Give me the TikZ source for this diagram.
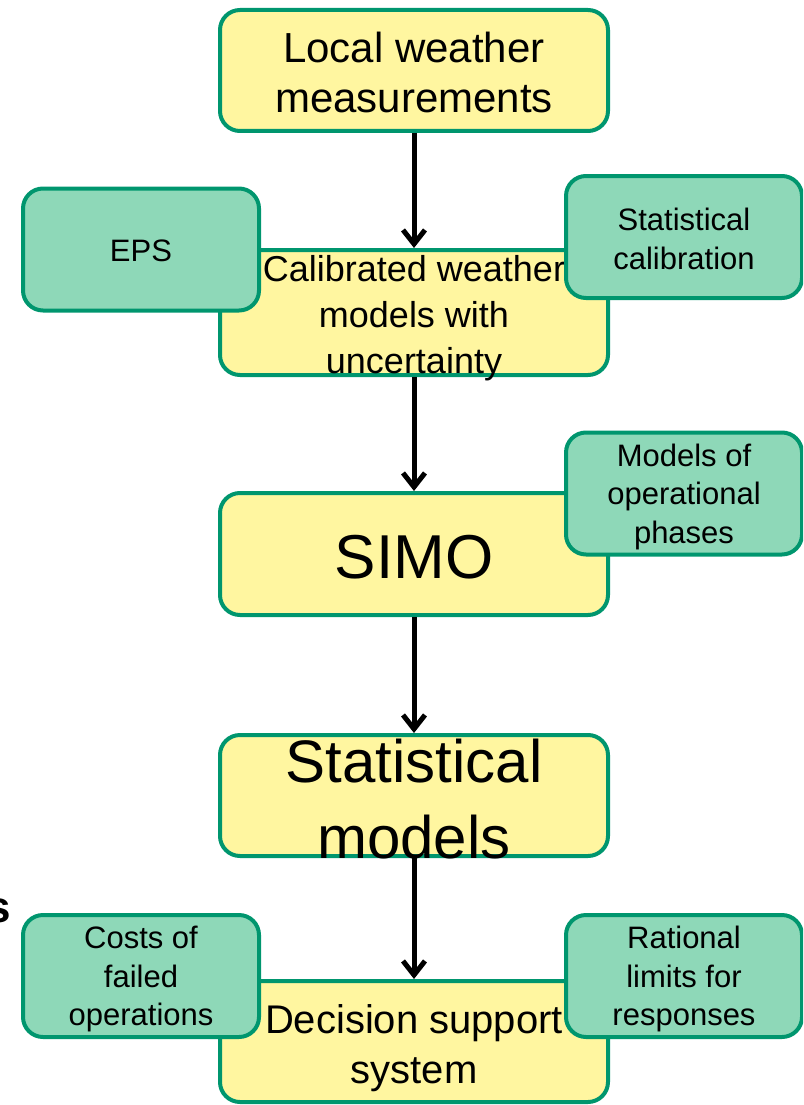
\documentclass[tikz,border=0pt]{standalone}
\usepackage{fontspec}
\setmainfont{Liberation Sans}
\usetikzlibrary{arrows.meta}
\definecolor{pale}{HTML}{FFF6A0}
\definecolor{mint}{HTML}{8ED8B8}
\definecolor{edge}{HTML}{00966E}

\begin{document}
\begin{tikzpicture}[x=1pt,y=-1pt,>={Straight Barb[length=14pt,width=22pt]},
  stage/.style={draw=edge,fill=pale,line width=4pt,rounded corners=20pt,
    minimum width=388pt,minimum height=121pt,inner sep=0pt},
  side/.style={draw=edge,fill=mint,line width=4pt,rounded corners=20pt,
    minimum width=236pt,minimum height=122pt,inner sep=0pt},
  words/.style={inner sep=0pt,align=center},
  small/.style={words,font=\fontsize{31}{38.5}\selectfont},
  flow/.style={->,line width=5pt}]
  \useasboundingbox (0,0) rectangle (803,1105);
  \clip (0,0) rectangle (803,1105);

  % main chain
  \node[stage] (local) at (414,70.5) {};
  \node[stage,minimum height=125pt] (calib) at (414,312.5) {};
  \node[stage,minimum height=122pt] (simo) at (414,554) {};
  \node[stage] (stats) at (414,795.5) {};
  \node[stage] (decision) at (414,1041.5) {};

  \node[words,font=\fontsize{42}{50}\selectfont] (local-txt)
    at ([yshift=-2pt]local.center) {Local weather\\measurements};
  \node[words,font=\fontsize{36}{46}\selectfont] (calib-txt)
    at ([yshift=-6pt]calib.center) {Calibrated weather\\models with\\uncertainty};
  \node[words,font=\fontsize{62}{70}\selectfont] (simo-txt)
    at ([yshift=-3pt]simo.center) {SIMO};
  \node[words,font=\fontsize{60}{76}\selectfont] (stats-txt)
    at ([yshift=-4pt]stats.center) {Statistical\\models};
  \node[words,font=\fontsize{40}{50}\selectfont] (decision-txt)
    at ([yshift=-7pt]decision.center) {Decision support\\system};

  \draw[flow] (local.south) -- (calib.north);
  \draw[flow] (calib.south) -- (simo.north);
  \draw[flow] (simo.south) -- (stats.north);
  \draw[flow] (stats.south) -- (decision.north);

  % side inputs
  \node[side] (eps) at (141,249.5) {};
  \node[side] (statcal) at (684,237) {};
  \node[side] (phases) at (684,493.5) {};
  \node[side] (costs) at (141,976) {};
  \node[side] (limits) at (684,976) {};

  \node[small] (eps-txt) at ([yshift=-1pt]eps.center) {EPS};
  \node[small] (statcal-txt) at ([yshift=-2pt]statcal.center) {Statistical\\calibration};
  \node[small] (phases-txt) at ([yshift=-3pt]phases.center) {Models of\\operational\\phases};
  \node[small] (costs-txt) at ([yshift=-3pt]costs.center) {Costs of\\failed\\operations};
  \node[small] (limits-txt) at ([yshift=-3pt]limits.center) {Rational\\limits for\\responses};

  \node[anchor=east,inner sep=0pt,font=\fontsize{44}{50}\bfseries\selectfont] (cut) at (11,911) {s};
\end{tikzpicture}
\end{document}
